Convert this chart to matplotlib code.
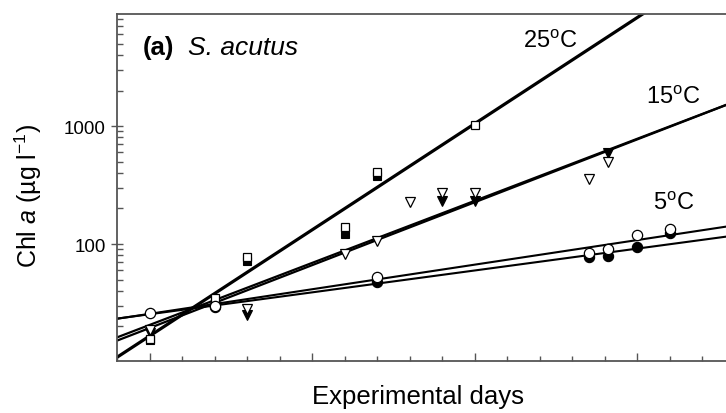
import numpy as np
import matplotlib
matplotlib.use("Agg")
import matplotlib.pyplot as plt

plt.rcParams['font.family'] = ['Liberation Sans', 'DejaVu Sans']
plt.rcParams['mathtext.fontset'] = 'custom'
plt.rcParams['mathtext.rm'] = 'Liberation Sans'
plt.rcParams['mathtext.it'] = 'Liberation Sans:italic'
plt.rcParams['mathtext.bf'] = 'Liberation Sans:bold'

# ---- data (days, Chl a in ug/l) ----
sq_open_days = [0, 2, 3, 6, 7, 10]
sq_open_vals = [15.7, 34.8, 78, 139, 410, 1019]
sq_fill_days = [0, 2, 3, 6, 7]
sq_fill_vals = [15.4, 34, 72, 121, 378]

tri_open_days = [0, 3, 6, 7, 8, 9, 10, 13.5, 14.1]
tri_open_vals = [18.5, 28, 82, 107, 227, 269, 269, 355, 492]
tri_fill_days = [0, 3, 9, 10, 14.1]
tri_fill_vals = [17.5, 25, 233, 233, 590]

cir_open_days = [0, 2, 7, 13.5, 14.1, 15, 16]
cir_open_vals = [26, 30, 52.8, 84, 90.7, 119, 134]
cir_fill_days = [2, 7, 13.5, 14.1, 15, 16]
cir_fill_vals = [29.5, 47.7, 77, 79.5, 93.8, 124]

# regression lines: value at day 0 and log10 growth per day
line_names = ['25C', '15C_a', '15C_b', '5C_a', '5C_b']
line_v0 = [16.6, 20.6, 19.4, 25.6, 25.4]
line_rate = [0.180, 0.10524, 0.10662, 0.0417, 0.0371]
line_lw = [2.3, 1.6, 1.6, 1.5, 1.5]

temp_labels = ['25$^{\\mathrm{o}}$C', '15$^{\\mathrm{o}}$C', '5$^{\\mathrm{o}}$C']
temp_label_x = [11.48, 15.26, 15.48]
temp_label_y = [5250, 1763, 222]

W, H = 726, 414
fig = plt.figure(figsize=(W / 100, H / 100), dpi=100)
left, right, top, bottom = 117, 767.5, 15, 361.5
ax = fig.add_axes([left / W, 1 - bottom / H, (right - left) / W, (bottom - top) / H])
ax.set_yscale('log')
ax.set_xlim(-1, 19)
ax.set_ylim(10.3, 8900)

xs = np.linspace(-1, 19, 200)
for v0, r, lw in zip(line_v0, line_rate, line_lw):
    ax.plot(xs, v0 * 10 ** (r * xs), color='black', lw=lw, zorder=2, solid_capstyle='butt')

ms_c, ms_s, ms_t = 7.4, 6.2, 7.2
ax.plot(sq_fill_days, sq_fill_vals, 's', ms=ms_s, mfc='black', mec='black', mew=0.8, zorder=3)
ax.plot(tri_fill_days, tri_fill_vals, 'v', ms=ms_t, mfc='black', mec='black', mew=0.8, zorder=3)
ax.plot(cir_fill_days, cir_fill_vals, 'o', ms=ms_c, mfc='black', mec='black', mew=0.8, zorder=3)
ax.plot(sq_open_days, sq_open_vals, 's', ms=ms_s, mfc='white', mec='black', mew=0.9, zorder=4)
ax.plot(tri_open_days, tri_open_vals, 'v', ms=ms_t, mfc='white', mec='black', mew=0.9, zorder=4)
ax.plot(cir_open_days, cir_open_vals, 'o', ms=ms_c, mfc='white', mec='black', mew=0.9, zorder=4)

for s, x, y in zip(temp_labels, temp_label_x, temp_label_y):
    ax.text(x, y, s, fontsize=17, ha='left', va='center')

ax.text(0.04, 0.905, '(a)', transform=ax.transAxes, fontsize=18.5, fontweight='bold', va='center')
ax.text(0.109, 0.905, 'S. acutus', transform=ax.transAxes, fontsize=19, style='italic', va='center')

for sp in ax.spines.values():
    sp.set_color('#555555')
    sp.set_linewidth(1.3)

ax.set_xticks(np.arange(0, 20, 5))
ax.set_xticks(np.arange(-1, 20, 1), minor=True)
ax.tick_params(axis='x', which='both', direction='in', labelbottom=False, color='#555555')
ax.tick_params(axis='x', which='major', length=6, width=1.0)
ax.tick_params(axis='x', which='minor', length=3.5, width=1.0)
ax.set_yticks([100, 1000])
ax.set_yticklabels(['100', '1000'])
ax.tick_params(axis='y', which='major', direction='inout', length=8, width=1.0, labelsize=13.5, pad=4, color='#555555')
ax.tick_params(axis='y', which='minor', direction='in', length=4, width=1.0, color='#555555')
ax.yaxis.set_minor_locator(matplotlib.ticker.LogLocator(base=10, subs=np.arange(2, 10)))
ax.yaxis.set_minor_formatter(matplotlib.ticker.NullFormatter())

fig.text(28 / W, 1 - 196 / H, 'Chl $\\mathit{a}$ (\u00b5g l$^{-1}$)', rotation=90, fontsize=18,
         ha='center', va='center')
fig.text(418 / W, 1 - 397 / H, 'Experimental days', fontsize=18.5, ha='center', va='center')

fig.savefig('out.png', dpi=100)
